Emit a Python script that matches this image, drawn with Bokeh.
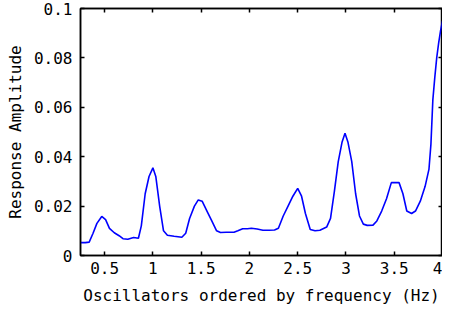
from bokeh.plotting import figure
from bokeh.models import LinearAxis, FixedTicker, CustomJSTickFormatter, Range1d
from bokeh.embed import file_html
from bokeh.resources import INLINE

freq = [0.25, 0.30, 0.34, 0.38, 0.42, 0.47, 0.51, 0.55, 0.60, 0.65, 0.69, 0.74, 0.80, 0.85,
        0.88, 0.92, 0.96, 1.00, 1.03, 1.07, 1.11, 1.15, 1.22, 1.30, 1.34, 1.38, 1.43, 1.47,
        1.51, 1.56, 1.61, 1.66, 1.70, 1.76, 1.84, 1.88, 1.93, 1.98, 2.02, 2.08, 2.14, 2.20,
        2.26, 2.30, 2.35, 2.40, 2.45, 2.50, 2.54, 2.58, 2.63, 2.68, 2.73, 2.80, 2.84, 2.88,
        2.92, 2.96, 2.99, 3.02, 3.06, 3.10, 3.14, 3.18, 3.22, 3.28, 3.32, 3.37, 3.42, 3.47,
        3.55, 3.59, 3.63, 3.68, 3.72, 3.77, 3.82, 3.86, 3.88, 3.90, 3.92, 3.94, 3.96, 3.98, 4.00]
amplitude = [0.0052, 0.0052, 0.0054, 0.0090, 0.0130, 0.0158, 0.0145, 0.0110, 0.0092, 0.0080,
             0.0068, 0.0066, 0.0073, 0.0070, 0.0120, 0.0250, 0.0320, 0.0355, 0.0320, 0.0200,
             0.0100, 0.0082, 0.0078, 0.0074, 0.0090, 0.0150, 0.0200, 0.0225, 0.0220, 0.0180,
             0.0140, 0.0100, 0.0093, 0.0094, 0.0094, 0.0100, 0.0108, 0.0108, 0.0110, 0.0107,
             0.0102, 0.0102, 0.0103, 0.0110, 0.0160, 0.0200, 0.0240, 0.0272, 0.0240, 0.0170,
             0.0105, 0.0100, 0.0102, 0.0115, 0.0150, 0.0260, 0.0380, 0.0460, 0.0495, 0.0460,
             0.0380, 0.0250, 0.0160, 0.0127, 0.0122, 0.0123, 0.0140, 0.0180, 0.0230, 0.0295,
             0.0295, 0.0250, 0.0180, 0.0170, 0.0180, 0.0220, 0.0280, 0.0350, 0.0450, 0.0630,
             0.0720, 0.0800, 0.0860, 0.0910, 0.0950]

x_ticks = [0.5, 1.0, 1.5, 2.0, 2.5, 3.0, 3.5, 4.0]
y_ticks = [0.0, 0.02, 0.04, 0.06, 0.08, 0.1]
x_label = "Oscillators ordered by frequency (Hz)"
y_label = "Response Amplitude"

FONT = "DejaVu Sans Mono"

p = figure(width=442, height=307, output_backend="svg", toolbar_location=None,
           x_range=Range1d(0.25, 4.0), y_range=Range1d(0.0, 0.1),
           min_border_left=80, min_border_right=0, min_border_top=8, min_border_bottom=10)
p.line(freq, amplitude, line_color="#0000ff", line_width=1.6)

p.xgrid.visible = False
p.ygrid.visible = False
p.outline_line_color = "black"
p.outline_line_width = 1.5
p.outline_line_alpha = 1.0

fmt = CustomJSTickFormatter(code="return String(Number(tick.toPrecision(6)));")
blank = CustomJSTickFormatter(code="return '';")

def style(ax, ticks, labels=True):
    ax.ticker = FixedTicker(ticks=ticks)
    ax.major_tick_in = 4
    ax.major_tick_out = 0
    ax.minor_tick_in = 0
    ax.minor_tick_out = 0
    ax.major_tick_line_color = "black"
    ax.major_tick_line_width = 1.5
    ax.axis_line_color = "black"
    ax.axis_line_width = 1.5
    if labels:
        ax.formatter = fmt
        ax.major_label_text_font = FONT
        ax.major_label_text_font_size = "16px"
        ax.major_label_text_color = "black"
        ax.axis_label_text_font = FONT
        ax.axis_label_text_font_size = "16px"
        ax.axis_label_text_font_style = "normal"
        ax.axis_label_text_color = "black"
    else:
        ax.formatter = blank
        ax.major_label_text_font_size = "1px"
        ax.major_label_standoff = 0
        ax.axis_label_standoff = 0
        ax.axis_label_text_font_size = "1px"

style(p.xaxis[0], x_ticks)
style(p.yaxis[0], y_ticks)
p.xaxis[0].axis_label = x_label
p.yaxis[0].axis_label = y_label
p.xaxis[0].major_label_standoff = 6
p.xaxis[0].axis_label_standoff = 9
p.yaxis[0].major_label_standoff = 8
p.yaxis[0].axis_label_standoff = 6

top = LinearAxis()
style(top, x_ticks, labels=False)
p.add_layout(top, "above")
right = LinearAxis()
style(right, y_ticks, labels=False)
p.add_layout(right, "right")

open("out.html", "w").write(file_html(p, INLINE))
